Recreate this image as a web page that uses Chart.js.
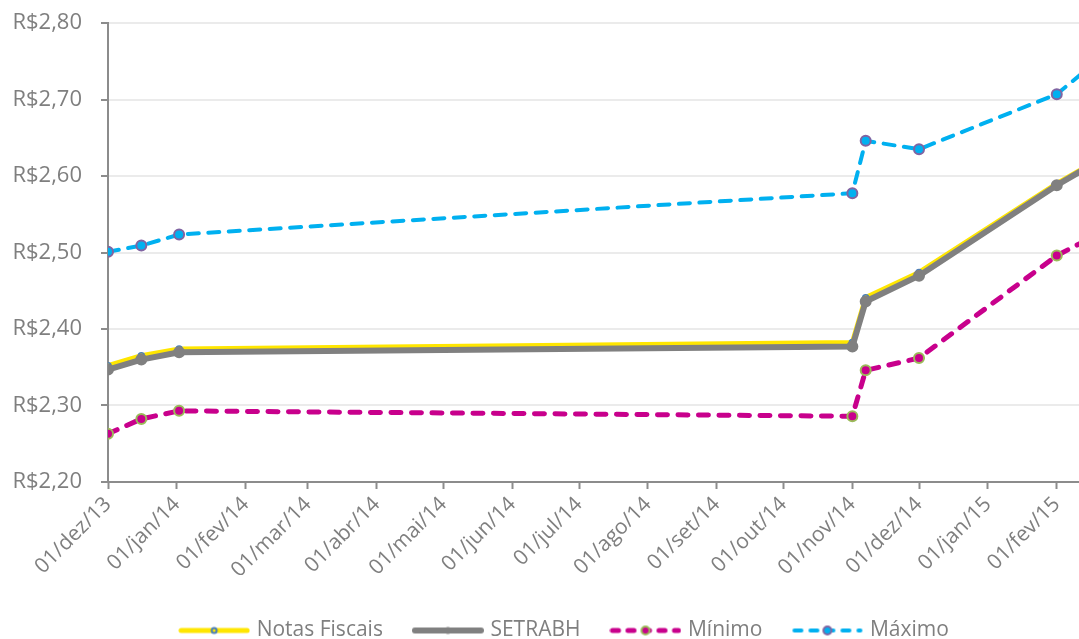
<!DOCTYPE html>
<html>
<head>
<meta charset="utf-8">
<script src="https://cdn.jsdelivr.net/npm/chart.js@4.4.1/dist/chart.umd.min.js"></script>
<style>
  html, body { margin: 0; padding: 0; background: #fff; }
  #wrap { width: 1079px; height: 639px; position: relative; }
</style>
</head>
<body>
<div id="wrap"><canvas id="precos"></canvas></div>
<script>
// dias contados a partir de 01/dez/13
const dias = [0, 15, 32, 335, 341, 365, 427, 455];
const notasFiscais = [2.352, 2.365, 2.374, 2.3825, 2.441, 2.474, 2.590, 2.637];
const setrabh = [2.347, 2.360, 2.3695, 2.377, 2.436, 2.4696, 2.588, 2.635];
const minimo = [2.263, 2.2825, 2.293, 2.286, 2.346, 2.362, 2.496, 2.538];
const maximo = [2.501, 2.509, 2.5235, 2.5775, 2.646, 2.635, 2.707, 2.774];

const diasTicks = [0, 31, 62, 90, 121, 151, 182, 212, 243, 274, 304, 335, 365, 396, 427];
const rotulosX = ['01/dez/13', '01/jan/14', '01/fev/14', '01/mar/14', '01/abr/14', '01/mai/14',
  '01/jun/14', '01/jul/14', '01/ago/14', '01/set/14', '01/out/14', '01/nov/14', '01/dez/14',
  '01/jan/15', '01/fev/15'];

const cinzaTexto = '#7f7f7f';
const fonte = "'Open Sans', sans-serif";

function pontos(valores) {
  return dias.map((d, i) => ({ x: d, y: valores[i] }));
}

// amostra da legenda: linha + marcador
function amostra(cor, largura, tracejado, raio, fundo, borda) {
  const c = document.createElement('canvas');
  c.width = 72; c.height = 16;
  const ctx = c.getContext('2d');
  ctx.strokeStyle = cor;
  ctx.lineWidth = largura;
  ctx.lineCap = 'round';
  if (tracejado) ctx.setLineDash(tracejado);
  ctx.beginPath();
  ctx.moveTo(3, 8);
  ctx.lineTo(69, 8);
  ctx.stroke();
  ctx.setLineDash([]);
  ctx.beginPath();
  ctx.arc(36, 8, raio, 0, Math.PI * 2);
  ctx.fillStyle = fundo;
  ctx.fill();
  ctx.lineWidth = 2;
  ctx.strokeStyle = borda;
  ctx.stroke();
  return c;
}

const amostras = [
  amostra('#ffe600', 5, null, 2.5, '#ffe600', '#4a7ebb'),
  amostra('#808080', 6, null, 2.5, '#808080', '#808080'),
  amostra('#c8008c', 5, [6, 9.5], 4, '#c8008c', '#9bbb59'),
  amostra('#00b0f0', 4, [7, 9], 4, '#00b0f0', '#8064a2')
];

// desloca a legenda para a posição do original
const moverLegenda = {
  id: 'moverLegenda',
  afterLayout(chart) {
    const lg = chart.legend;
    lg.left += 26; lg.right += 26;
    lg.top += 12; lg.bottom += 12;
  }
};

new Chart(document.getElementById('precos'), {
  type: 'line',
  data: {
    datasets: [
      {
        label: 'Notas Fiscais',
        data: pontos(notasFiscais),
        borderColor: '#ffe600',
        borderWidth: 5,
        pointRadius: 3,
        pointBackgroundColor: '#ffe600',
        pointBorderColor: '#4a7ebb',
        pointBorderWidth: 1.5,
        order: 4
      },
      {
        label: 'SETRABH',
        data: pontos(setrabh),
        borderColor: '#808080',
        borderWidth: 6,
        pointRadius: 3,
        pointBackgroundColor: '#808080',
        pointBorderColor: '#808080',
        order: 3
      },
      {
        label: 'Mínimo',
        data: pontos(minimo),
        borderColor: '#c8008c',
        borderWidth: 5,
        borderDash: [10, 10.5],
        borderCapStyle: 'round',
        pointRadius: 5,
        pointBackgroundColor: '#c8008c',
        pointBorderColor: '#9bbb59',
        pointBorderWidth: 2,
        order: 2
      },
      {
        label: 'Máximo',
        data: pontos(maximo),
        borderColor: '#00b0f0',
        borderWidth: 4,
        borderDash: [11, 9.5],
        borderCapStyle: 'round',
        pointRadius: 5,
        pointBackgroundColor: '#00b0f0',
        pointBorderColor: '#8064a2',
        pointBorderWidth: 2,
        order: 1
      }
    ]
  },
  options: {
    responsive: true,
    maintainAspectRatio: false,
    animation: false,
    layout: { autoPadding: false, padding: { top: 23, right: 0, left: 0, bottom: 0 } },
    scales: {
      x: {
        type: 'linear',
        min: 0,
        max: 437,
        afterBuildTicks: axis => { axis.ticks = diasTicks.map(v => ({ value: v })); },
        afterFit: axis => {
          axis.paddingLeft = 0;
          axis.paddingRight = 0;
          axis.height = 93;
        },
        ticks: {
          autoSkip: false,
          minRotation: 45,
          maxRotation: 45,
          padding: 3,
          color: cinzaTexto,
          font: { family: fonte, size: 21 },
          callback: v => rotulosX[diasTicks.indexOf(v)]
        },
        grid: { drawOnChartArea: false, tickLength: 7, tickColor: '#8c8c8c', tickWidth: 2 },
        border: { color: '#8c8c8c', width: 2 }
      },
      y: {
        min: 2.2,
        max: 2.8,
        afterFit: axis => {
          axis.paddingTop = 0;
          axis.paddingBottom = 0;
          axis.width = 108;
        },
        ticks: {
          stepSize: 0.1,
          padding: 19,
          color: cinzaTexto,
          font: { family: fonte, size: 22 },
          callback: v => 'R$' + v.toFixed(2).replace('.', ',')
        },
        grid: { color: '#ebebeb', lineWidth: 2, tickLength: 7, tickColor: '#8c8c8c', tickWidth: 2 },
        border: { color: '#8c8c8c', width: 2 }
      }
    },
    plugins: {
      tooltip: { enabled: false },
      legend: {
        position: 'bottom',
        labels: {
          usePointStyle: true,
          pointStyleWidth: 64,
          padding: 33,
          color: cinzaTexto,
          font: { family: fonte, size: 21 },
          sort: (a, b) => a.datasetIndex - b.datasetIndex,
          generateLabels: chart => chart.data.datasets.map((ds, i) => ({
            text: ds.label,
            datasetIndex: i,
            pointStyle: amostras[i],
            fontColor: cinzaTexto,
            lineWidth: 0,
            strokeStyle: 'transparent',
            fillStyle: 'transparent'
          }))
        }
      }
    }
  },
  plugins: [moverLegenda]
});
</script>
</body>
</html>
